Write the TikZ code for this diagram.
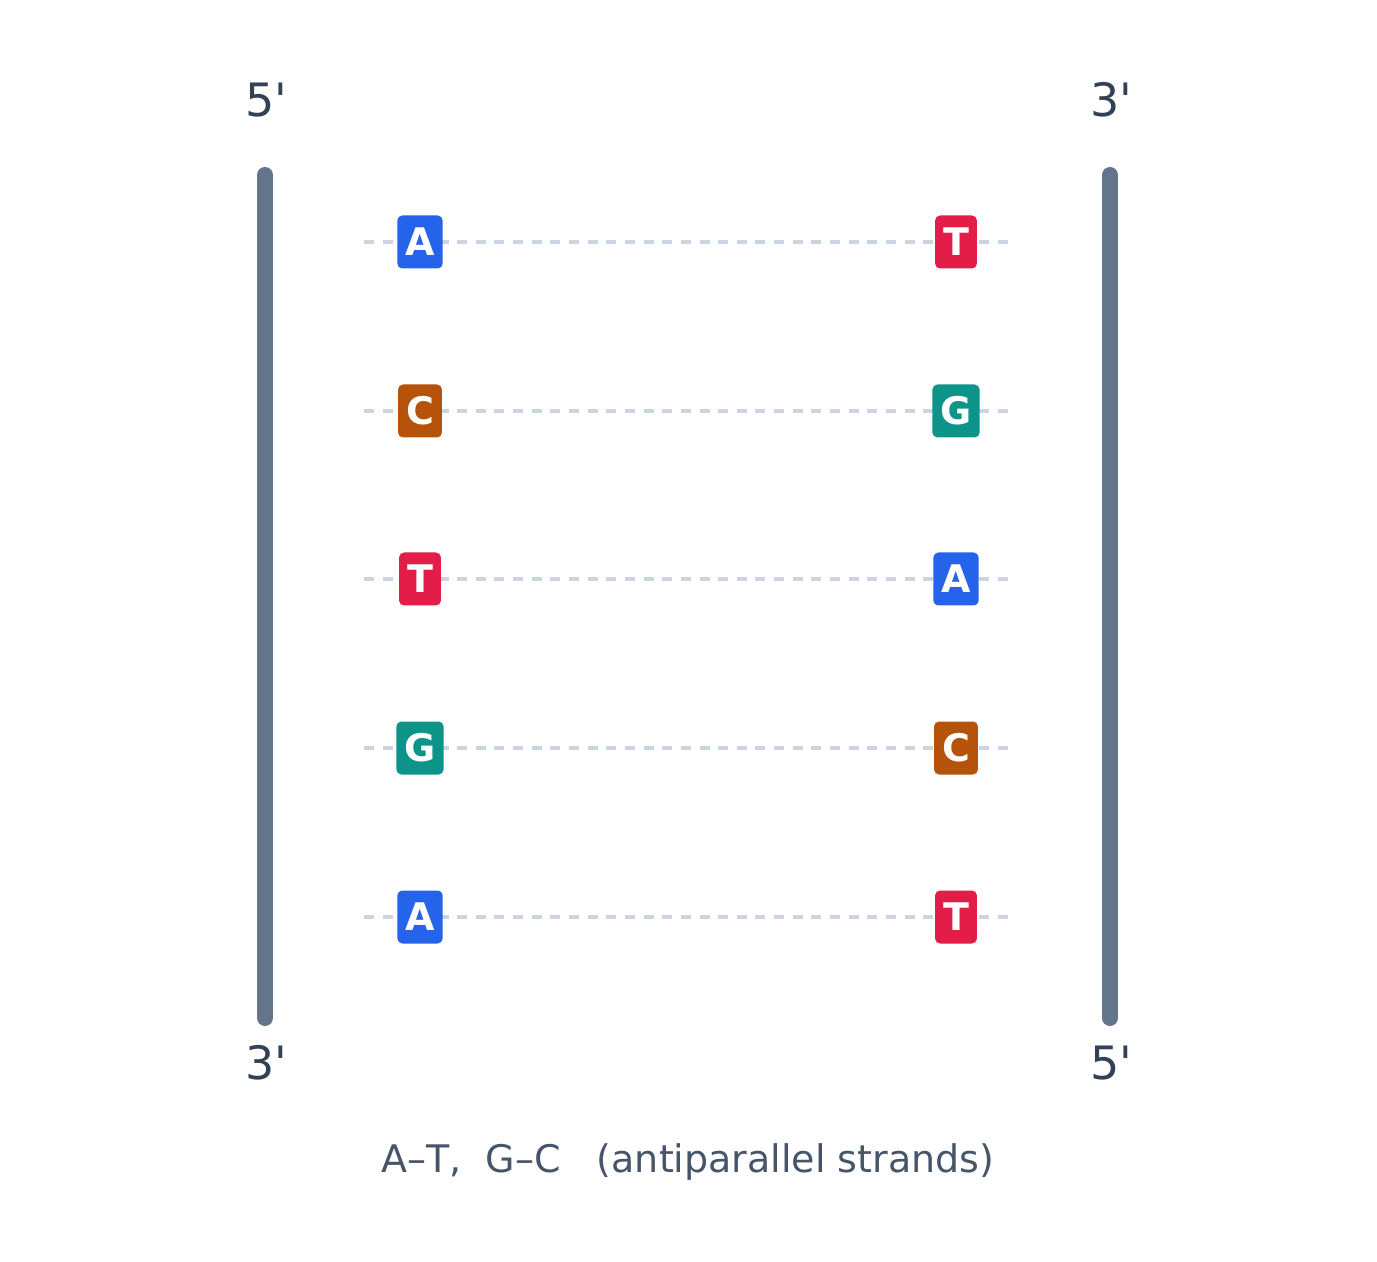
\documentclass[tikz,border=0pt]{standalone}
\usepackage{fontspec}
\setmainfont{DejaVu Sans}

\definecolor{strandgray}{HTML}{64748B}
\definecolor{bondgray}{HTML}{CBD5E1}
\definecolor{endgray}{HTML}{334155}
\definecolor{notegray}{HTML}{475569}
\definecolor{colA}{HTML}{2563EB}
\definecolor{colT}{HTML}{E11D48}
\definecolor{colC}{HTML}{B45309}
\definecolor{colG}{HTML}{0D9488}

\tikzset{
    strand/.style={line width=8pt, strandgray, line cap=round},
    hbond/.style={line width=2pt, bondgray, dash pattern=on 5pt off 4.32pt},
    base/.style={fill=#1, text=white, rounded corners=2.5pt,
        font=\fontsize{19}{20}\selectfont\bfseries,
        minimum height=26.5pt, text height=13.8pt, text depth=0pt, inner xsep=4pt},
    endlabel/.style={endgray, anchor=base, font=\fontsize{23}{26}\selectfont},
}

\begin{document}
\begin{tikzpicture}[x=0.5pt, y=-0.5pt]
        \useasboundingbox (0,0) rectangle (1377,1262);
        % strands
        \draw[strand] (265,175) -- (265,1018);
        \draw[strand] (1110,175) -- (1110,1018);
        \node[endlabel] (top5) at (266,117) {5\textquotesingle};
        \node[endlabel] (bot3) at (266,1079) {3\textquotesingle};
        \node[endlabel] (top3) at (1111,117) {3\textquotesingle};
        \node[endlabel] (bot5) at (1111,1079) {5\textquotesingle};
        % base pairs
        \foreach \y/\l/\r [count=\i] in {242/A/T, 411/C/G, 579/T/A, 748/G/C, 917/A/T} {
            \coordinate (bl\i) at (364,\y);
            \coordinate (br\i) at (1008,\y);
            \draw[hbond] (bl\i) -- (br\i);
            \node[base=col\l] (l\i) at (420,\y) {\l};
            \node[base=col\r] (r\i) at (956,\y) {\r};
        }
        \node[notegray, anchor=base, font=\fontsize{19}{23}\selectfont] (note) at (688,1172)
            {A–T,\hspace{12pt}G–C\hspace{18pt}(antiparallel strands)};
    \end{tikzpicture}
\end{document}
